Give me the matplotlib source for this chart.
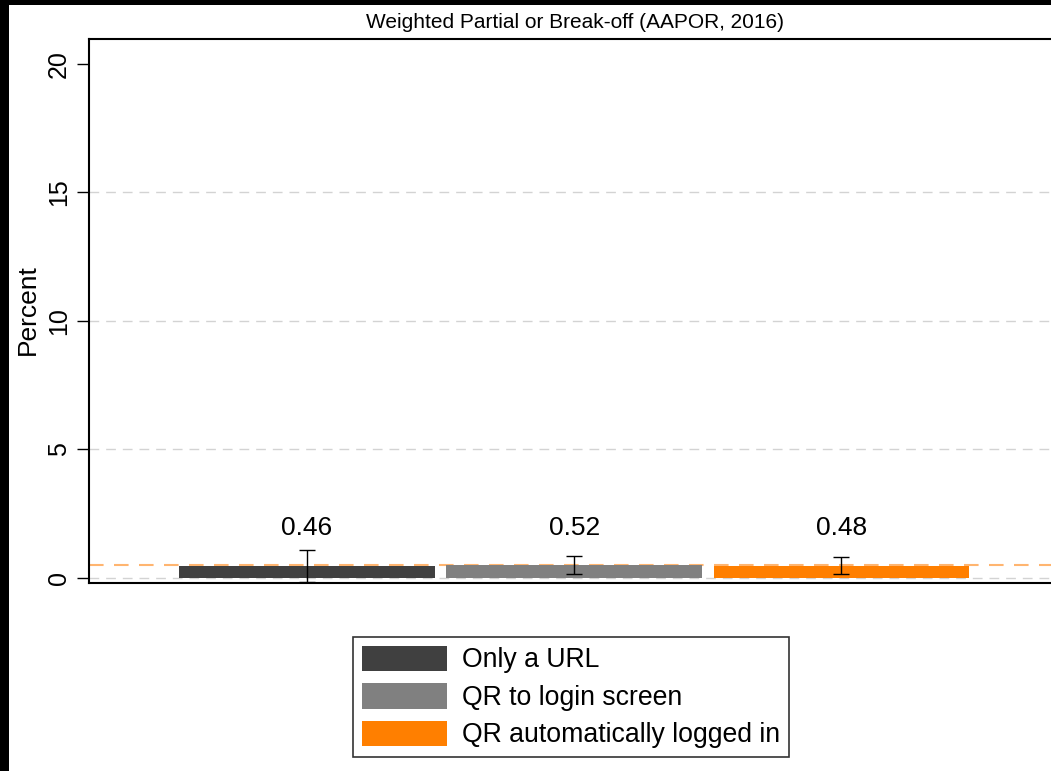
import matplotlib
matplotlib.use("Agg")
import matplotlib.pyplot as plt
from matplotlib.patches import Rectangle, Patch

plt.rcParams['font.family'] = ['Liberation Sans', 'DejaVu Sans']

categories = ["Only a URL", "QR to login screen", "QR automatically logged in"]
values = [0.46, 0.52, 0.48]
errors = [0.63, 0.35, 0.33]
value_labels = ["0.46", "0.52", "0.48"]
colors = ["#404040", "#808080", "#FF7F00"]
overall_mean = 0.49
yticks = [0, 5, 10, 15, 20]
title = "Weighted Partial or Break-off (AAPOR, 2016)"

W, H = 1051, 771
fig = plt.figure(figsize=(W / 100, H / 100), dpi=100)

# black frame edges (left and top)
fig.patches.append(Rectangle((0, 0), 9 / W, 1, transform=fig.transFigure,
                             facecolor="black", edgecolor="none", zorder=10))
fig.patches.append(Rectangle((0, 1 - 5 / H), 1, 5 / H, transform=fig.transFigure,
                             facecolor="black", edgecolor="none", zorder=10))

left, right, top, bottom = 89, 1058, 39, 583
ax = fig.add_axes([left / W, 1 - bottom / H, (right - left) / W, (bottom - top) / H])

x = [1, 2, 3]
for yv in [0, 5, 10, 15]:
    ax.axhline(yv, color="#d3d3d3", lw=1, ls=(0, (7, 5)), zorder=0)
ax.axhline(overall_mean, color="#FFB570", lw=1.5, ls=(0, (7, 5)), zorder=1)

ax.bar(x, values, width=0.957, color=colors, zorder=2)
ax.errorbar(x, values, yerr=errors, fmt="none", ecolor="black", elinewidth=1,
            capsize=6, capthick=1, zorder=3, clip_on=True)

for xi, lab in zip(x, value_labels):
    ax.text(xi, 1.95, lab, ha="center", va="center", fontsize=19)

ax.set_xlim(0.185, 3.81)
ax.set_ylim(-0.195, 20.97)
ax.set_xticks([])
ax.set_yticks(yticks)
ax.set_yticklabels([str(t) for t in yticks], rotation=90, va="center", fontsize=18)
ax.tick_params(axis="y", length=9, width=1, pad=4)
for s in ["left", "bottom", "top"]:
    ax.spines[s].set_linewidth(1.5)
ax.spines["right"].set_visible(False)

fig.text(28 / W, 1 - 310 / H, "Percent", rotation=90, ha="center", va="center", fontsize=19)
fig.text(575 / W, 1 - 22 / H, title, ha="center", va="center", fontsize=15)

handles = [Patch(facecolor=c, edgecolor="none") for c in colors]
leg = fig.legend(handles, categories, loc="center",
                 bbox_to_anchor=(571 / W, 1 - 697 / H), fontsize=19.2,
                 frameon=True, fancybox=False, edgecolor="black",
                 handlelength=3.2, handleheight=1.1, handletextpad=0.55,
                 labelspacing=0.36, borderpad=0.33)
leg.get_frame().set_linewidth(1.2)

fig.savefig("out.png", dpi=100, facecolor="white")
